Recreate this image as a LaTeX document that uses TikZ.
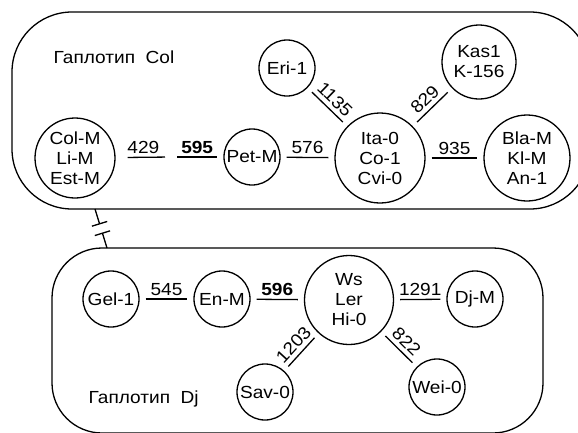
\documentclass[tikz,border=0pt]{standalone}
\usepackage{fontspec}
\setmainfont{Liberation Sans}[FakeStretch=1.09]
\usetikzlibrary{calc}
\begin{document}
\begin{tikzpicture}[x=1pt, y=-1pt, line width=1.3pt,
  font=\fontsize{17.5}{20}\selectfont,
  hap/.style={circle, draw, align=center, inner sep=0pt},
  link/.style={shorten >=6pt, shorten <=6pt},
  lab/.style={above, inner sep=3pt},
  slab/.style={above, sloped, inner sep=4pt}]
  \useasboundingbox (0,0) rectangle (578,432);
  \draw[rounded corners=60] (12,12) rectangle (590,209);
  \draw[rounded corners=50] (52,248) rectangle (543,433);
  \node[anchor=base west, inner sep=0pt] (colname) at (53,63) {Гаплотип\ \ Col};
  \node[anchor=base west, inner sep=0pt] (djname) at (88,403) {Гаплотип\ \ Dj};
  % haplotype Col
  \node[hap, minimum size=80] (col) at (75,158) {Col-M\\Li-M\\Est-M};
  \node[hap, minimum size=56] (pet) at (252,157) {Pet-M};
  \node[hap, minimum size=56] (eri) at (287,68) {Eri-1};
  \node[hap, minimum size=74] (kas) at (479,62) {Kas1\\K-156};
  \node[hap, minimum size=90] (ita) at (380,158) {Ita-0\\Co-1\\Cvi-0};
  \node[hap, minimum size=86] (bla) at (527,158) {Bla-M\\Kl-M\\An-1};
  \coordinate (colpet) at (171,157);
  \draw[link, shorten <=12pt] (col) -- node[lab] {429} (colpet);
  \draw[link] (colpet) -- node[lab] {\textbf{595}} (pet);
  \draw[link] (pet) -- node[lab] {576} (ita);
  \draw[link] (ita) -- node[lab] {935} (bla);
  \draw[link] (eri) -- node[slab] {1135} (ita);
  \draw[link] (ita) -- node[slab] {829} (kas);
  % haplotype Dj
  \node[hap, minimum size=56] (gel) at (111,299) {Gel-1};
  \node[hap, minimum size=56] (en) at (222,299) {En-M};
  \node[hap, minimum size=89] (ws) at (349,300) {Ws\\Ler\\Hi-0};
  \node[hap, minimum size=56] (dj) at (475,299) {Dj-M};
  \node[hap, minimum size=56] (sav) at (265,392) {Sav-0};
  \node[hap, minimum size=56] (wei) at (437,387) {Wei-0};
  \draw[link] (gel) -- node[lab] {545} (en);
  \draw[link] (en) -- node[lab] {\textbf{596}} (ws);
  \draw[link] (ws) -- node[lab] {1291} (dj);
  \draw[link] (sav) -- node[slab] {1203} (ws);
  \draw[link] (ws) -- node[slab] {822} (wei);
  % break between the groups
  \coordinate (brk1) at (95,209);
  \coordinate (brk2) at (107,248);
  \coordinate (b1) at ($(brk1)!0.38!(brk2)$);
  \coordinate (b2) at ($(brk1)!0.62!(brk2)$);
  \draw (brk1) -- (b1) ($(b1)!8pt!90:(brk1)$) -- ($(b1)!8pt!-90:(brk1)$);
  \draw (brk2) -- (b2) ($(b2)!8pt!90:(brk2)$) -- ($(b2)!8pt!-90:(brk2)$);
\end{tikzpicture}
\end{document}
